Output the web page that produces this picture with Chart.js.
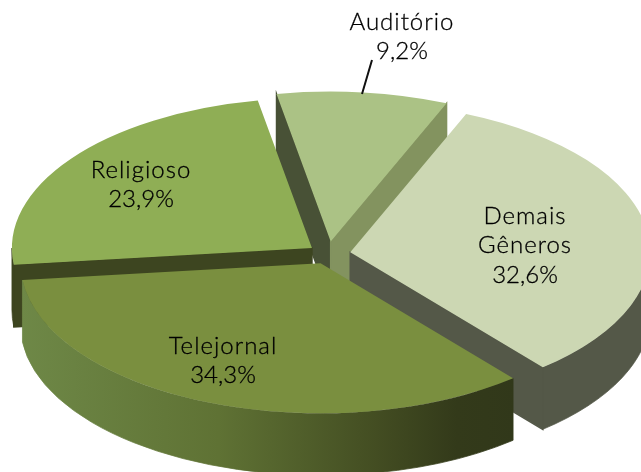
<!DOCTYPE html>
<html>
<head>
<meta charset="utf-8">
<style>
  html, body { margin: 0; padding: 0; background: #fff; overflow: hidden; }
  canvas { display: block; }
</style>
<script src="https://cdn.jsdelivr.net/npm/chart.js@4/dist/chart.umd.min.js"></script>
</head>
<body>
<canvas id="pie" width="641" height="472"></canvas>
<script>
// Chart data
const categories = ['Auditório', 'Demais Gêneros', 'Telejornal', 'Religioso'];
const shares = [9.2, 32.6, 34.3, 23.9];

// Slice look, same order as categories
const topColors = ['#abc285', '#ccd7b3', '#7a8f3f', '#8fae55'];
const startWallColors = ['#485136', '#545848', '#545848', '#3d4520'];
const endWallColors = ['#83935f', '#545848', '#545848', '#3d4520'];
const outerWallColors = ['#485136', '#545848', null, '#3d4520'];
const explode = [25, 22.5, 20, 20];
const labelSpots = [[402, 22], [525, 216], [223, 346], [141, 170]];
const paintOrder = [0, 3, 1, 2];

// 3D view
const TILT = 0.5;
const DEPTH = 62;
const LINE_HEIGHT = 29.5;

function drawWalls(ctx, arc, ax, ay, i) {
    const r = arc.outerRadius;
    const rim = a => [ax + r * Math.cos(a), ay + TILT * r * Math.sin(a)];

    const quad = (a, color) => {
        const p = rim(a);
        ctx.fillStyle = color;
        ctx.strokeStyle = color;
        ctx.lineWidth = 1.5;
        ctx.beginPath();
        ctx.moveTo(ax, ay);
        ctx.lineTo(p[0], p[1]);
        ctx.lineTo(p[0], p[1] + DEPTH);
        ctx.lineTo(ax, ay + DEPTH);
        ctx.closePath();
        ctx.fill();
        ctx.stroke();
    };

    // radial faces that look towards the viewer
    if (Math.cos(arc.startAngle) < 0) quad(arc.startAngle, startWallColors[i]);
    if (Math.cos(arc.endAngle) > 0) quad(arc.endAngle, endWallColors[i]);

    // outer rim, only the front half of the ellipse shows
    const turn = Math.PI * 2;
    for (let k = -1; k <= 1; k++) {
        const a0 = Math.max(arc.startAngle, k * turn);
        const a1 = Math.min(arc.endAngle, k * turn + Math.PI);
        if (a1 <= a0) continue;
        let fill = outerWallColors[i];
        if (!fill) {
            const grad = ctx.createLinearGradient(ax - r, 0, ax + r * 0.65, 0);
            grad.addColorStop(0, '#6e8847');
            grad.addColorStop(0.4, '#5f7234');
            grad.addColorStop(0.72, '#434d22');
            grad.addColorStop(0.88, '#333a1a');
            grad.addColorStop(1, '#31381a');
            fill = grad;
        }
        ctx.fillStyle = fill;
        ctx.strokeStyle = fill;
        ctx.lineWidth = 0.75;
        ctx.beginPath();
        ctx.ellipse(ax, ay, r, TILT * r, 0, a0, a1);
        ctx.ellipse(ax, ay + DEPTH, r, TILT * r, 0, a1, a0, true);
        ctx.closePath();
        ctx.fill();
        ctx.stroke();
    }
}

// Draws the slices as a tilted, exploded pie with side walls
const tiltedPie = {
    id: 'tiltedPie',
    beforeDatasetDraw(chart, args) {
        const ctx = chart.ctx;
        const arcs = args.meta.data;
        paintOrder.forEach(i => {
            const arc = arcs[i];
            const mid = (arc.startAngle + arc.endAngle) / 2;
            const ax = arc.x + explode[i] * Math.cos(mid);
            const ay = arc.y + TILT * explode[i] * Math.sin(mid);
            ctx.save();
            drawWalls(ctx, arc, ax, ay, i);
            ctx.translate(ax, ay);
            ctx.scale(1, TILT);
            ctx.translate(-arc.x, -arc.y);
            arc.draw(ctx);
            ctx.restore();
        });
        return false;
    },
    afterDraw(chart) {
        const ctx = chart.ctx;
        ctx.save();
        // leader line for the label outside the pie
        ctx.strokeStyle = '#111';
        ctx.lineWidth = 2;
        ctx.beginPath();
        ctx.moveTo(372, 60);
        ctx.lineTo(362, 94);
        ctx.stroke();

        ctx.fillStyle = '#000';
        ctx.strokeStyle = '#000';
        ctx.lineWidth = 0.3;
        ctx.font = '300 24px Lato, sans-serif';
        ctx.textAlign = 'center';
        ctx.textBaseline = 'middle';
        const put = (text, x, y) => {
            ctx.fillText(text, x, y);
            ctx.strokeText(text, x, y);
        };
        categories.forEach((name, i) => {
            const lines = name.split(' ');
            ctx.letterSpacing = '1px';
            lines.forEach((line, n) => {
                put(line, labelSpots[i][0], labelSpots[i][1] + n * LINE_HEIGHT);
            });
            ctx.letterSpacing = '0px';
            const pct = shares[i].toFixed(1).replace('.', ',') + '%';
            put(pct, labelSpots[i][0], labelSpots[i][1] + lines.length * LINE_HEIGHT);
        });
        ctx.restore();
    }
};

new Chart(document.getElementById('pie'), {
    type: 'pie',
    data: {
        labels: categories,
        datasets: [{
            data: shares,
            backgroundColor: topColors,
            borderWidth: 0
        }]
    },
    options: {
        responsive: false,
        animation: false,
        rotation: -10.4,
        radius: 300,
        layout: { padding: { left: 15, top: 36 } },
        plugins: {
            legend: { display: false },
            tooltip: { enabled: false }
        }
    },
    plugins: [tiltedPie]
});
</script>
</body>
</html>
